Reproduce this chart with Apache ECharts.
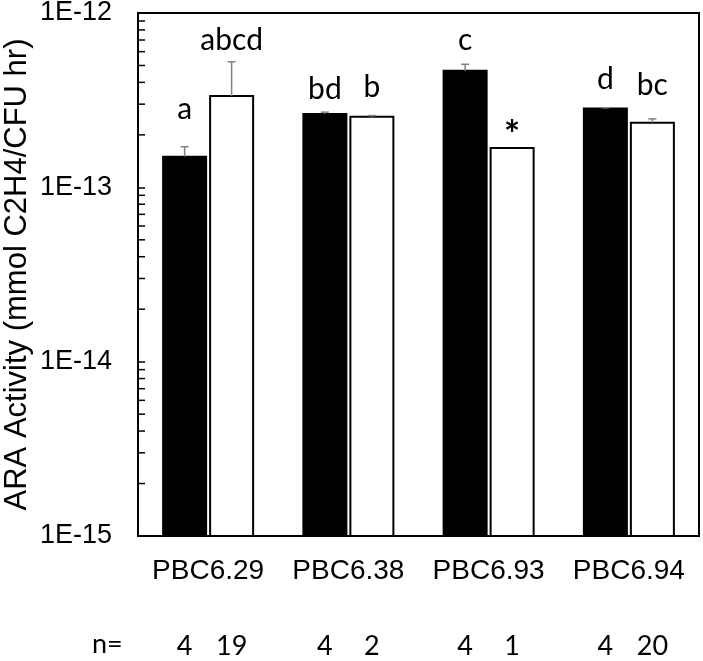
<!DOCTYPE html>
<html>
<head>
<meta charset="utf-8">
<script src="https://cdn.jsdelivr.net/npm/echarts@6/dist/echarts.min.js"></script>
<style>html,body{margin:0;padding:0;background:#fff;}#chart{width:703px;height:661px;}</style>
</head>
<body>
<div id="chart"></div>
<script>
// ---- data ----
const categories = ['PBC6.29', 'PBC6.38', 'PBC6.93', 'PBC6.94'];
const blackValues = [1.50e-13, 2.63e-13, 4.67e-13, 2.83e-13];
const blackErr    = [0.21e-13, 0.07e-13, 0.41e-13, 0.03e-13];
const whiteValues = [3.34e-13, 2.54e-13, 1.68e-13, 2.35e-13];
const whiteErr    = [1.91e-13, 0.04e-13, 0,        0.12e-13];
const blackLetters = ['a', 'bd', 'c', 'd'];
const whiteLetters = ['abcd', 'b', '*', 'bc'];
const blackN = ['4', '4', '4', '4'];
const whiteN = ['19', '2', '1', '20'];
const yMin = 1e-15;
const yMax = 1e-12;
const yTickDecades = [1e-15, 1e-14, 1e-13];
const minorMultipliers = [2, 3, 4, 5, 6, 7, 8, 9];
const yAxisTitle = 'ARA Activity (mmol C2H4/CFU hr)';
const nTitle = 'n=';

// ---- styles (not data) ----
const BAR_W = 43;
const BAR_GAP = 4 / 43;
const BAR_OFFSET = BAR_W * (1 + BAR_GAP) / 2;
const blackLift = [37, 23, 24, 28];
const whiteLift = [21, 28, 12, 34];
const LETTER_FONT = 'Lato, "Open Sans", sans-serif';
const ARIAL = '"Liberation Sans", Arial, sans-serif';

const minorTicks = [];
yTickDecades.forEach(d => minorMultipliers.forEach(m => minorTicks.push([0, d * m])));

function barSeries(values, sign, fill) {
  return {
    type: 'custom',
    z: 3,
    data: values.map((v, i) => [i, v]),
    encode: { x: 0, y: 1 },
    renderItem: function (params, api) {
      const topPt = api.coord([api.value(0), api.value(1)]);
      const basePt = api.coord([api.value(0), yMin]);
      const cx = topPt[0] + sign * BAR_OFFSET;
      return { type: 'rect',
        shape: { x: cx - BAR_W / 2, y: topPt[1], width: BAR_W, height: basePt[1] - topPt[1] },
        style: { fill: fill, stroke: '#000', lineWidth: 2 } };
    }
  };
}

function errSeries(values, errs, letters, ns, sign, lifts) {
  return {
    type: 'custom',
    clip: false,
    z: 5,
    data: values.map((v, i) => [i, v, v + errs[i]]),
    encode: { x: 0, y: [1, 2] },
    renderItem: function (params, api) {
      const i = params.dataIndex;
      const base = api.coord([api.value(0), api.value(1)]);
      const top = api.coord([api.value(0), api.value(2)]);
      const x = base[0] + sign * BAR_OFFSET;
      const children = [];
      if (api.value(2) > api.value(1)) {
        children.push({ type: 'line', shape: { x1: x, y1: base[1], x2: x, y2: top[1] },
          style: { stroke: '#808080', lineWidth: 1.5 } });
        children.push({ type: 'line', shape: { x1: x - 4, y1: top[1], x2: x + 4, y2: top[1] },
          style: { stroke: '#808080', lineWidth: 1.5 } });
      }
      const isStar = letters[i] === '*';
      children.push({ type: 'text', x: x, y: top[1] - lifts[i],
        style: { text: letters[i], fill: '#000', font: (isStar ? 'bold 38px ' : '30px ') + LETTER_FONT,
          textAlign: 'center', textVerticalAlign: 'middle' } });
      const cs = params.coordSys;
      children.push({ type: 'text', x: x, y: cs.y + cs.height + 110,
        style: { text: ns[i], fill: '#000', font: '27px ' + LETTER_FONT,
          textAlign: 'center', textVerticalAlign: 'middle' } });
      return { type: 'group', children: children };
    }
  };
}

const chart = echarts.init(document.getElementById('chart'), null, { renderer: 'canvas' });
const option = {
  animation: false,
  backgroundColor: '#fff',
  grid: { left: 138, right: 4, top: 13, bottom: 125, outerBoundsMode: 'none', containLabel: false,
    show: true, borderColor: '#000', borderWidth: 2, backgroundColor: 'transparent' },
  xAxis: {
    type: 'category', data: categories,
    axisLine: { lineStyle: { color: '#000', width: 2 } },
    axisTick: { show: false },
    axisLabel: { color: '#000', fontSize: 28, fontFamily: ARIAL, margin: 21, interval: 0 }
  },
  yAxis: {
    type: 'log', logBase: 10, min: yMin, max: yMax,
    name: yAxisTitle, nameLocation: 'middle', nameGap: 105, nameMoveOverlap: false,
    nameTextStyle: { color: '#000', fontSize: 31, fontFamily: ARIAL },
    axisLine: { show: true, lineStyle: { color: '#000', width: 2 } },
    axisTick: { show: true, inside: true, length: 7, lineStyle: { color: '#000', width: 1.5 } },
    splitLine: { show: false },
    axisLabel: { color: '#000', fontSize: 27, fontFamily: ARIAL, margin: 26,
      formatter: v => '1E' + Math.round(Math.log10(v)) }
  },
  graphic: [{ type: 'text', left: 92, top: 631, style: { text: nTitle, fill: '#000', font: '27px ' + LETTER_FONT } }],
  series: [
    barSeries(blackValues, -1, '#000'),
    barSeries(whiteValues, 1, '#fff'),
    errSeries(blackValues, blackErr, blackLetters, blackN, -1, blackLift),
    errSeries(whiteValues, whiteErr, whiteLetters, whiteN, 1, whiteLift),
    { type: 'custom', clip: false, z: 6, data: minorTicks, encode: { x: 0, y: 1 },
      renderItem: function (params, api) {
        const y = api.coord([0, api.value(1)])[1];
        const x = params.coordSys.x;
        return { type: 'line', shape: { x1: x, y1: y, x2: x + 7, y2: y }, style: { stroke: '#000', lineWidth: 1.5 } };
      } }
  ]
};
chart.setOption(option);
</script>
</body>
</html>
